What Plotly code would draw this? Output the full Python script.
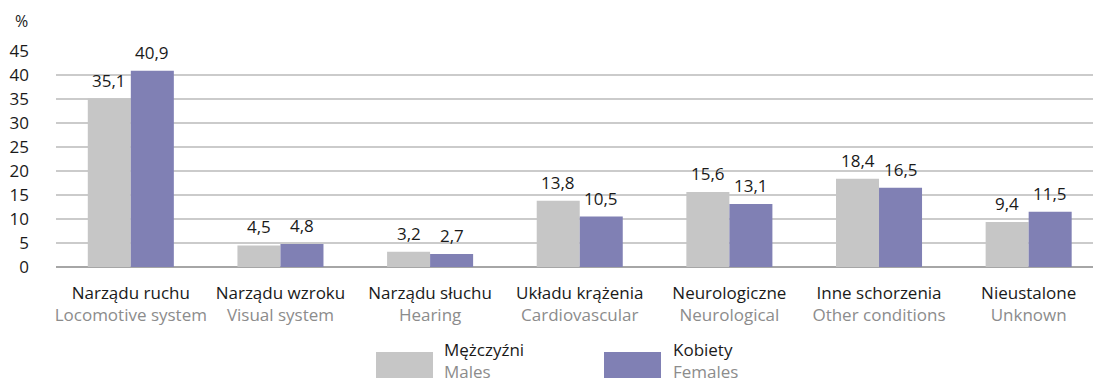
import plotly.graph_objects as go

categories_pl = ["Narządu ruchu", "Narządu wzroku", "Narządu słuchu", "Układu krążenia",
                 "Neurologiczne", "Inne schorzenia", "Nieustalone"]
categories_en = ["Locomotive system", "Visual system", "Hearing", "Cardiovascular",
                 "Neurological", "Other conditions", "Unknown"]
males = [35.1, 4.5, 3.2, 13.8, 15.6, 18.4, 9.4]
females = [40.9, 4.8, 2.7, 10.5, 13.1, 16.5, 11.5]
y_ticks = [0, 5, 10, 15, 20, 25, 30, 35, 40, 45]

FONT = "Open Sans"
GRAY = "#c6c6c6"
PURPLE = "#8080b4"
SUB = "#8c8c8c"
INK = "#1a1a1a"

W, H = 1093, 383
ML, MR, MT, MB = 56, 0, 51, 116
PW, PH = W - ML - MR, H - MT - MB


def fmt(v):
    return f"{v:.1f}".replace(".", ",")


def px_x(px):
    return (px - ML) / PW


def px_y(py):
    return (H - MB - py) / PH


x = list(range(len(categories_pl)))
ticktext = [f"{pl}<br><span style='color:{SUB}'>{en}</span>"
            for pl, en in zip(categories_pl, categories_en)]

fig = go.Figure()
fig.add_bar(x=x, y=males, name="Mężczyźni", marker_color=GRAY, marker_line_width=0)
fig.add_bar(x=x, y=females, name="Kobiety", marker_color=PURPLE, marker_line_width=0)

# value labels above each bar (half a bar width left/right of the category centre)
BAR_PX = 43
for series, side in ((males, -1), (females, 1)):
    for xi, v in zip(x, series):
        fig.add_annotation(x=xi, y=v, xref="x", yref="y", text=fmt(v), showarrow=False,
                           xanchor="center", yanchor="bottom", xshift=side * BAR_PX / 2,
                           yshift=5, font=dict(family=FONT, size=17, color=INK))

fig.update_layout(
    width=W, height=H,
    margin=dict(l=ML, r=MR, t=MT, b=MB),
    barmode="group", bargap=0.425, bargroupgap=0,
    plot_bgcolor="white", paper_bgcolor="white",
    showlegend=False,
    font=dict(family=FONT, size=17, color=INK),
)
fig.update_xaxes(range=[-0.5, 6.43], tickvals=x, ticktext=ticktext,
                 showgrid=False, showline=False, ticks="", ticklabelstandoff=14,
                 tickfont=dict(family=FONT, size=17, color=INK))
fig.update_yaxes(range=[0, 45], tickvals=y_ticks, ticktext=[str(t) for t in y_ticks],
                 showgrid=True, gridcolor="#cbcbcb", gridwidth=1.5,
                 zeroline=True, zerolinecolor="#a6a6a6", zerolinewidth=2,
                 showline=False, ticks="", ticklabelstandoff=26,
                 tickfont=dict(family=FONT, size=17, color=INK))

# axis unit
fig.add_annotation(text="%", xref="paper", yref="paper", x=px_x(21), y=px_y(21),
                   showarrow=False, xanchor="center", yanchor="middle",
                   font=dict(family=FONT, size=16, color=INK))

# legend drawn as swatches with two-line labels
legend_items = [("Mężczyźni", "Males", GRAY, 376, 443),
                ("Kobiety", "Females", PURPLE, 604, 672)]
for pl, en, col, sx, tx in legend_items:
    fig.add_shape(type="rect", xref="paper", yref="paper",
                  x0=px_x(sx), x1=px_x(sx + 57), y0=px_y(378), y1=px_y(352),
                  fillcolor=col, line_width=0)
    fig.add_annotation(text=f"{pl}<br><span style='color:{SUB}'>{en}</span>",
                       xref="paper", yref="paper", x=px_x(tx), y=px_y(337),
                       xanchor="left", yanchor="top", align="left", showarrow=False,
                       borderpad=0, font=dict(family=FONT, size=17, color=INK))

fig.write_html("out.html")
